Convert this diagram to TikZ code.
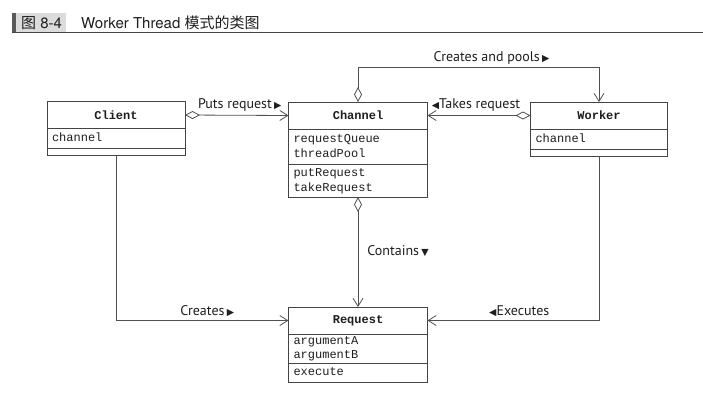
\documentclass[tikz,border=0pt]{standalone}
\usepackage{fontspec}
\setmainfont{TeX Gyre Heros}
\newfontfamily\cjk{Noto Sans CJK SC}
\newfontfamily\lblfont{PT Sans}
\newfontfamily\monofnt{Liberation Mono}
\newfontfamily\symfnt{DejaVu Sans}
\usetikzlibrary{arrows.meta}
\definecolor{linec}{HTML}{505050}
\definecolor{boxc}{HTML}{444444}
\definecolor{txtc}{HTML}{1E1E1E}
\definecolor{tagbg}{HTML}{DCDCDC}
\definecolor{tagbar}{HTML}{5A5A5A}
\newcommand{\tri}[1]{{\symfnt\fontsize{9.5}{9.5}\selectfont #1}}
\tikzset{
  hdr/.style={draw=boxc, line width=0.8pt, inner sep=0pt, outer sep=0pt,
    minimum height=27pt, text=txtc, font={\monofnt\bfseries\fontsize{12}{15}\selectfont}},
  comp/.style={draw=boxc, line width=0.8pt, inner ysep=0pt, inner xsep=5pt, outer sep=0pt,
    align=left, anchor=north, text=txtc, font={\monofnt\fontsize{12}{15}\selectfont}},
  ecomp/.style={draw=boxc, line width=0.8pt, inner sep=0pt, outer sep=0pt, anchor=north},
  conn/.style={draw=linec, line width=0.8pt},
  aggr/.style={conn, {Diamond[open,length=15pt,width=8pt]}-{Straight Barb[length=8pt,width=10pt]}},
  nav/.style={conn, -{Straight Barb[length=8pt,width=10pt]}},
  lbl/.style={inner sep=0pt, text=txtc, font={\lblfont\fontsize{14}{16}\selectfont}},
}
\begin{document}
\begin{tikzpicture}[x=1pt,y=-1pt]
\useasboundingbox (0,0) rectangle (703,405);
% header
\fill[tagbar] (12,13) rectangle (15.5,32);
\fill[tagbg] (15.5,13) rectangle (66,32);
\node[anchor=base west, inner sep=0pt, text=txtc, font=\fontsize{15}{17}\selectfont] (fignum) at (21,28) {{\cjk 图} 8-4};
\node[anchor=base west, inner sep=0pt, text=txtc, font=\fontsize{15}{17}\selectfont] (figtitle) at (81,28) {Worker Thread {\cjk 模式的类图}};
\draw[boxc, line width=1.1pt] (12,32.5) -- (703,32.5);

% Client
\node[hdr, minimum width=138pt] (clienthdr) at (116,115) {Client};
\node[comp, text width=128pt, minimum height=20pt] (clientattr) at (clienthdr.south) {\strut channel};
\node[ecomp, minimum width=138pt, minimum height=7pt] (clientops) at (clientattr.south) {};

% Channel
\node[hdr, minimum width=139pt] (channelhdr) at (358,115.5) {Channel};
\node[comp, text width=129pt, minimum height=35pt] (channelattr) at (channelhdr.south) {\strut requestQueue\\\strut threadPool};
\node[comp, text width=129pt, minimum height=33pt] (channelops) at (channelattr.south) {\strut putRequest\\\strut takeRequest};

% Worker
\node[hdr, minimum width=137pt] (workerhdr) at (599,115.5) {Worker};
\node[comp, text width=127pt, minimum height=20pt] (workerattr) at (workerhdr.south) {\strut channel};
\node[ecomp, minimum width=137pt, minimum height=7pt] (workerops) at (workerattr.south) {};

% Request
\node[hdr, minimum width=139pt] (requesthdr) at (358,320.5) {Request};
\node[comp, text width=129pt, minimum height=29pt, font={\monofnt\fontsize{12}{14}\selectfont}] (requestattr) at (requesthdr.south) {\strut argumentA\\\strut argumentB};
\node[comp, text width=129pt, minimum height=19pt] (requestops) at (requestattr.south) {\strut execute};

% connectors
\draw[aggr] (clienthdr.east) -- node[lbl, above=3.5pt, xshift=3pt] (putslbl) {Puts request\,\tri{▶}} (channelhdr.west);
\draw[aggr] (workerhdr.west) -- node[lbl, above=3.5pt, xshift=-3pt] (takeslbl) {\tri{◀}Takes request} (channelhdr.east);
\draw[aggr] (channelhdr.north) -- ++(0,-35) -| node[lbl, pos=0.25, above=2pt, xshift=13pt] (poolslbl) {Creates and pools\,\tri{▶}} (workerhdr.north);
\draw[aggr] (channelops.south) -- node[lbl, right=9pt, yshift=1pt] (containslbl) {Contains\,\tri{▼}} (requesthdr.north);
\draw[nav] (clientops.south) |- node[lbl, pos=0.75, above=3pt, xshift=5pt] (createslbl) {Creates\,\tri{▶}} (requesthdr.west);
\draw[nav] (workerops.south) |- node[lbl, pos=0.75, above=3pt, xshift=6pt] (execlbl) {\tri{◀}Executes} (requesthdr.east);
\end{tikzpicture}
\end{document}
